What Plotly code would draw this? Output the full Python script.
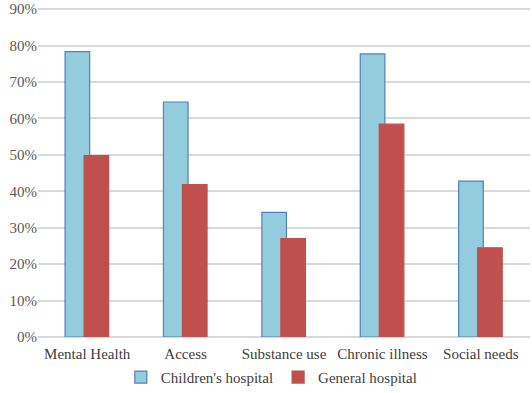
import plotly.graph_objects as go

categories = ["Mental Health", "Access", "Substance use", "Chronic illness", "Social needs"]
childrens = [0.783, 0.645, 0.342, 0.777, 0.428]
general = [0.498, 0.418, 0.270, 0.584, 0.245]
tick_vals = [0, 0.1, 0.2, 0.3, 0.4, 0.5, 0.6, 0.7, 0.8, 0.9]
tick_text = ["0%", "10%", "20%", "30%", "40%", "50%", "60%", "70%", "80%", "90%"]

font_family = "Liberation Serif, Times New Roman, serif"

fig = go.Figure()
fig.add_trace(go.Bar(
    x=categories, y=childrens, name="Children's hospital",
    marker=dict(color="#93CDDD", line=dict(color="#4F81BD", width=1.2)),
    width=0.25, offset=-0.225,
))
fig.add_trace(go.Bar(
    x=categories, y=general, name="General hospital",
    marker=dict(color="#C0504D", line=dict(color="#C0504D", width=1.2)),
    width=0.25, offset=-0.032,
))

fig.update_layout(
    width=532, height=393,
    margin=dict(l=38, r=2, t=8, b=56),
    barmode="overlay",
    paper_bgcolor="white", plot_bgcolor="white",
    font=dict(family=font_family, size=15, color="#404040"),
    showlegend=True,
    legend=dict(orientation="h", xref="container", yref="container",
                x=0.51, xanchor="center", y=0.04, yanchor="middle",
                font=dict(family=font_family, size=15, color="#404040"),
                itemwidth=30, traceorder="normal", tracegroupgap=0),
    xaxis=dict(showgrid=False, showline=False, ticks="", zeroline=False,
               automargin=False, ticklabelstandoff=6,
               tickfont=dict(family=font_family, size=15, color="#404040"),
               range=[-0.5, 4.5]),
    yaxis=dict(range=[0, 0.903], tickvals=tick_vals, ticktext=tick_text,
               automargin=False,
               showgrid=True, gridcolor="#D9D9D9", gridwidth=1.5,
               zeroline=True, zerolinecolor="#D9D9D9", zerolinewidth=1.5,
               tickfont=dict(family=font_family, size=15, color="#595959"),
               ticks="", showline=False),
)

fig.write_html("out.html", config={"displayModeBar": False},
               post_script="document.body.style.margin='0';")
